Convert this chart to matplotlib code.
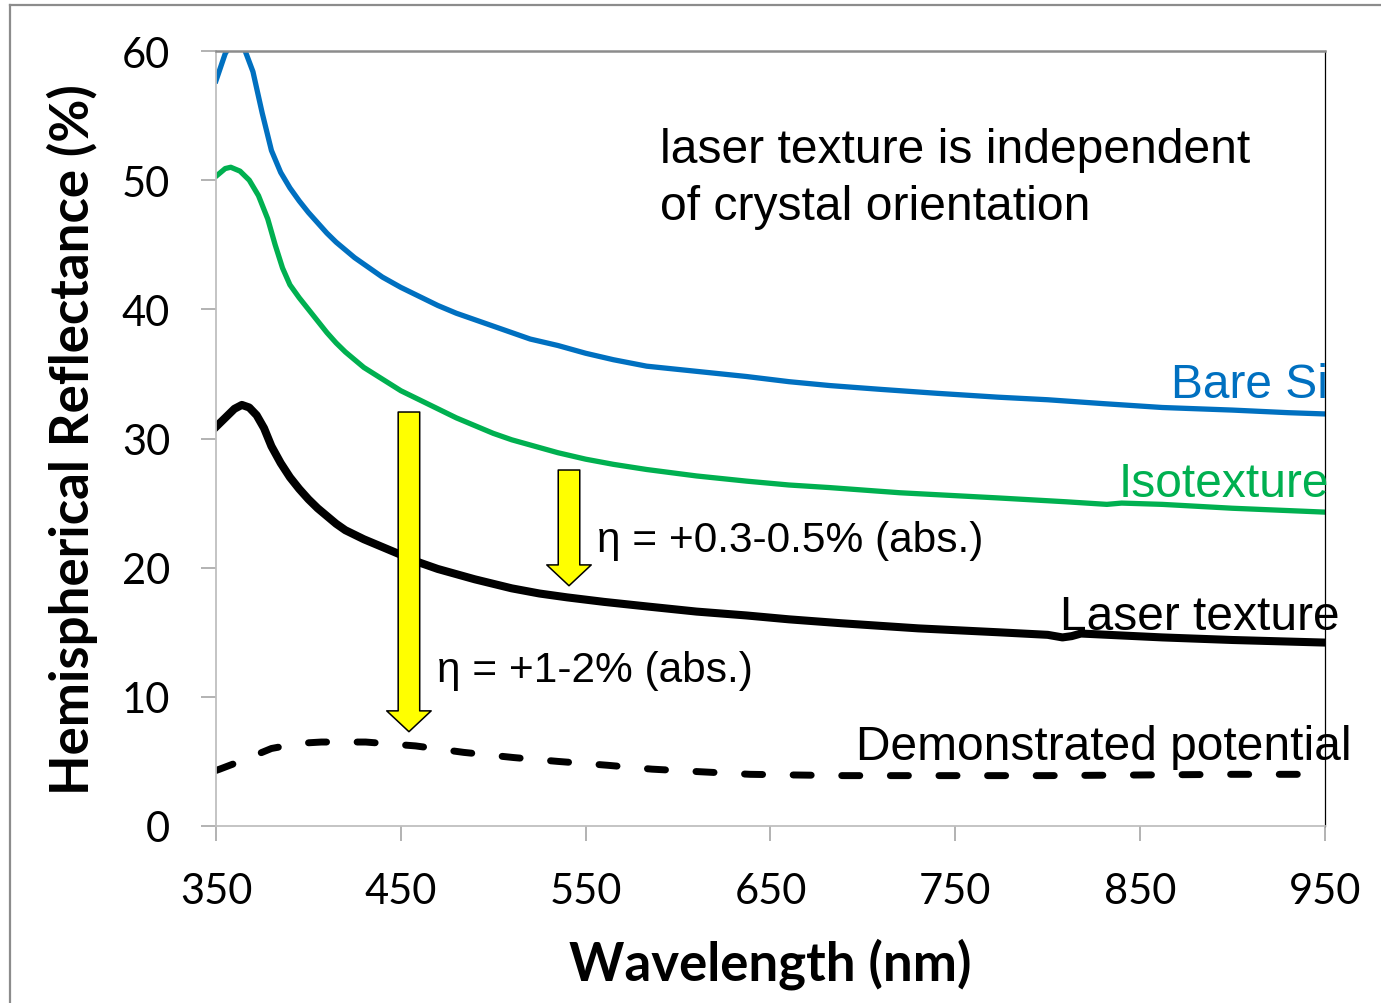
import matplotlib.pyplot as plt
from matplotlib.lines import Line2D

# Hemispherical reflectance spectra (%), by wavelength (nm)
bare_nm = [350, 355, 360, 365, 370, 375, 380, 385, 390, 395, 400, 405, 410, 415, 420,
           425, 430, 440, 450, 460, 470, 480, 490, 500, 510, 520, 535, 550, 565, 583,
           610, 637, 660, 682, 710, 740, 773, 800, 830, 862, 900, 930, 950]
bare_si = [57.7, 59.8, 61.0, 60.3, 58.4, 55.2, 52.3, 50.6, 49.4, 48.4, 47.5, 46.7, 45.9,
           45.2, 44.6, 44.0, 43.5, 42.5, 41.7, 41.0, 40.3, 39.7, 39.2, 38.7, 38.2, 37.7,
           37.2, 36.6, 36.1, 35.6, 35.2, 34.8, 34.4, 34.1, 33.8, 33.5, 33.2, 33.0, 32.7,
           32.4, 32.2, 32.0, 31.9]

iso_nm = [350, 355, 358, 363, 368, 373, 378, 382, 386, 390, 395, 400, 405, 410, 415,
          420, 425, 430, 440, 450, 460, 470, 480, 490, 500, 510, 520, 535, 550, 565,
          583, 610, 637, 660, 682, 720, 773, 810, 832, 840, 862, 900, 950]
isotexture = [50.3, 50.9, 51.0, 50.7, 50.0, 48.8, 47.0, 45.0, 43.2, 41.9, 40.9, 40.0,
              39.1, 38.2, 37.4, 36.7, 36.1, 35.5, 34.6, 33.7, 33.0, 32.3, 31.6, 31.0,
              30.4, 29.9, 29.5, 28.9, 28.4, 28.0, 27.6, 27.1, 26.7, 26.4, 26.2, 25.8,
              25.4, 25.1, 24.9, 25.0, 24.9, 24.6, 24.3]

laser_nm = [350, 355, 360, 364, 368, 372, 376, 380, 385, 390, 395, 400, 405, 410, 415,
            420, 430, 440, 450, 460, 470, 480, 490, 500, 510, 525, 540, 560, 583, 610,
            637, 660, 688, 730, 773, 800, 808, 813, 818, 862, 900, 950]
laser_texture = [30.9, 31.6, 32.3, 32.6, 32.4, 31.8, 30.8, 29.4, 28.1, 27.0, 26.1, 25.3,
                 24.6, 24.0, 23.4, 22.9, 22.2, 21.6, 21.0, 20.4, 19.9, 19.5, 19.1, 18.75,
                 18.4, 18.0, 17.7, 17.35, 17.0, 16.6, 16.3, 16.0, 15.7, 15.3, 15.0, 14.8,
                 14.6, 14.7, 14.9, 14.6, 14.4, 14.2]

pot_nm = [350, 352, 363, 380, 395, 407, 431, 458, 484, 511, 535, 562, 586, 612, 639,
          663, 690, 750, 800, 850, 900, 950]
potential = [4.3, 4.4, 5.0, 6.0, 6.4, 6.5, 6.5, 6.2, 5.7, 5.3, 5.0, 4.7, 4.4, 4.2, 4.0,
             3.95, 3.9, 3.9, 3.9, 3.95, 4.0, 4.0]

xticks = [350, 450, 550, 650, 750, 850, 950]
yticks = [0, 10, 20, 30, 40, 50, 60]

BLUE = '#0070C0'
GREEN = '#00B050'

fig = plt.figure(figsize=(13.81, 10.04), dpi=100)
ax = fig.add_axes([0.1564, 0.1763, 0.8030, 0.7719])

ax.plot(bare_nm, bare_si, color=BLUE, lw=3.8, solid_joinstyle='round')
ax.plot(iso_nm, isotexture, color=GREEN, lw=3.8, solid_joinstyle='round')
ax.plot(laser_nm, laser_texture, color='black', lw=5.8, solid_joinstyle='round')
ax.plot(pot_nm, potential, color='black', lw=5.0, dashes=(2.6, 4.4),
        dash_capstyle='round')

ax.set_xlim(350, 950)
ax.set_ylim(0, 60)
ax.set_xticks(xticks)
ax.set_yticks(yticks)

tick_font = dict(family='Lato', size=30)
ax.set_xticklabels([str(t) for t in xticks], fontdict=tick_font)
ax.set_yticklabels([str(t) for t in yticks], fontdict=tick_font)
ax.tick_params(axis='both', direction='out', length=11, width=1.2, color='#a6a6a6')
ax.tick_params(axis='x', pad=22)
ax.tick_params(axis='y', pad=22)

ax.spines['left'].set_color('#bfbfbf')
ax.spines['bottom'].set_color('#bfbfbf')
ax.spines['left'].set_linewidth(1.3)
ax.spines['bottom'].set_linewidth(1.3)
ax.spines['top'].set_color('#8c8c8c')
ax.spines['top'].set_linewidth(1.8)
ax.spines['right'].set_color('black')
ax.spines['right'].set_linewidth(0.9)

ax.set_xlabel('Wavelength (nm)', family='Lato', weight='bold', size=38, labelpad=20)
ax.set_ylabel('Hemispherical Reflectance (%)', family='Lato', weight='bold', size=38,
              labelpad=17)

# curve names
txt = dict(family='Liberation Sans', size=34.5, va='baseline', ha='right')
ax.text(951.7, 33.2, 'Bare Si', color=BLUE, **txt)
ax.text(952.2, 25.55, 'Isotexture', color=GREEN, **txt)
ax.text(958.2, 15.25, 'Laser texture', color='black', **txt)
ax.text(964.7, 5.19, 'Demonstrated potential', color='black', **txt)

note = dict(family='Liberation Sans', size=34.6, va='baseline', ha='left')
ax.text(590.3, 51.4, 'laser texture is independent', **note)
ax.text(590.3, 47.0, 'of crystal orientation', **note)

# efficiency gain arrows
arrow = dict(arrowstyle='simple,head_width=32,head_length=15,tail_width=15.5',
             mutation_scale=1, fc='#ffff00', ec='black', lw=1.1,
             shrinkA=0, shrinkB=0)
ax.annotate('', xy=(454.4, 7.3), xytext=(454.4, 32.05), arrowprops=arrow)
ax.annotate('', xy=(541.0, 18.6), xytext=(541.0, 27.56), arrowprops=arrow)

eta = dict(family='Liberation Sans', size=30.5, va='baseline', ha='left')
ax.text(556.2, 21.3, 'η = +0.3-0.5% (abs.)', **eta)
ax.text(469.6, 11.2, 'η = +1-2% (abs.)', **eta)

# slide frame
fig.add_artist(Line2D([10 / 1381, 10 / 1381], [0, 1 - 6 / 1004],
                      transform=fig.transFigure, color='#8c8c8c', lw=1.6))
fig.add_artist(Line2D([10 / 1381, 1], [1 - 6 / 1004, 1 - 6 / 1004],
                      transform=fig.transFigure, color='#8c8c8c', lw=1.6))

fig.savefig('out.png', dpi=100)
